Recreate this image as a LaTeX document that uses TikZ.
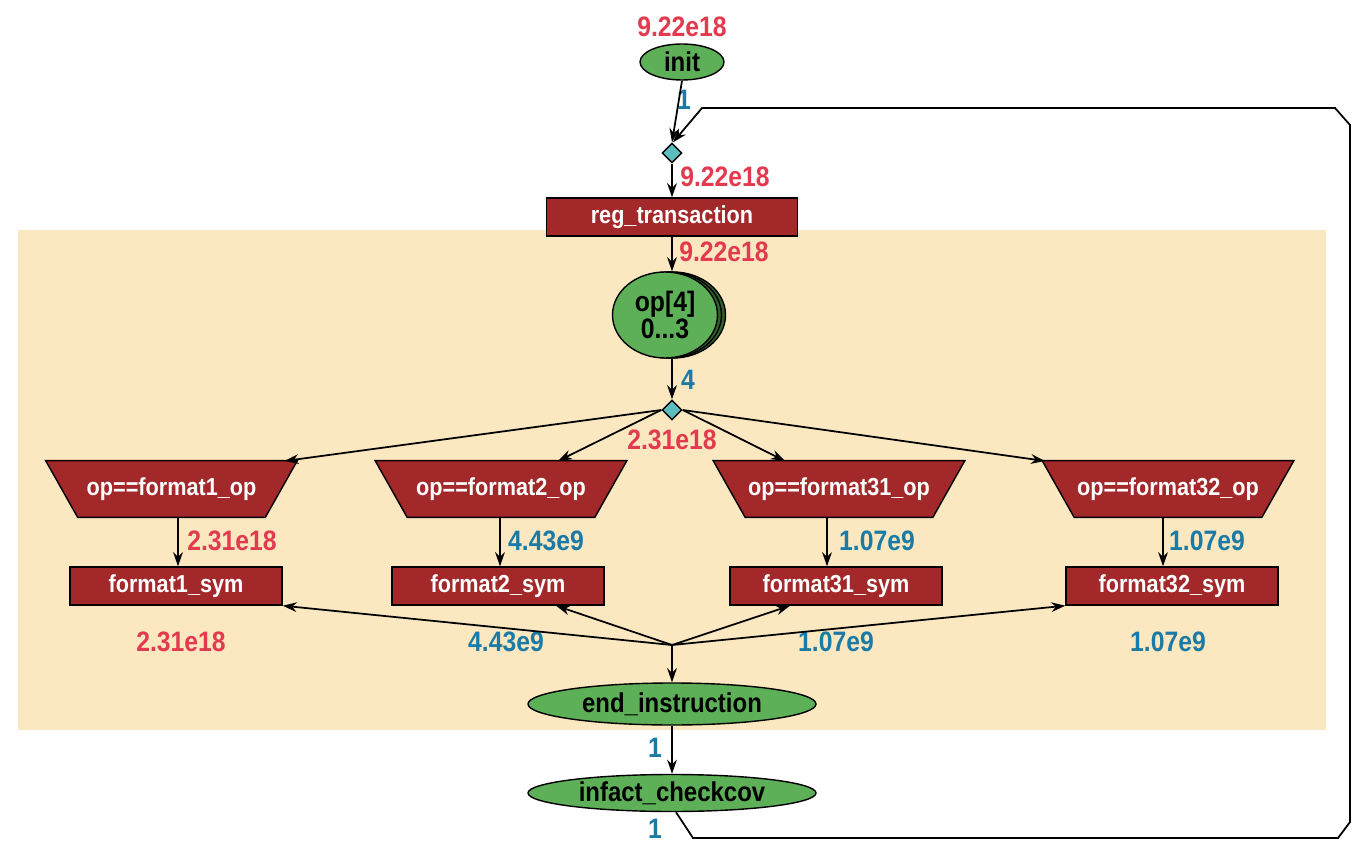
\documentclass[tikz,border=0pt]{standalone}
\usepackage{fontspec}
\setmainfont{Liberation Sans}[FakeStretch=0.88]
\usetikzlibrary{shapes.geometric,arrows.meta,calc,shadows}
\newdimen\px \px=0.02cm
\definecolor{bgbeige}{HTML}{FBE8C0}
\definecolor{boxred}{HTML}{A3282A}
\definecolor{ellgreen}{HTML}{5DAF58}
\definecolor{dteal}{HTML}{5BBDBD}
\definecolor{labred}{HTML}{E23A4E}
\definecolor{labblue}{HTML}{1B7BA6}
\pgfdeclarelayer{back}\pgfdeclarelayer{mid}\pgfsetlayers{back,mid,main}
\tikzset{
  rbox/.style={rectangle, draw=black, line width=0.8pt, fill=boxred, text=white,
    font=\fontsize{14}{16}\selectfont\bfseries, inner sep=0pt},
  ell/.style={ellipse, draw=black, line width=0.8pt, fill=ellgreen, text=black,
    font=\fontsize{15.5}{17}\selectfont\bfseries, inner sep=0pt},
  trapbox/.style={rectangle, text=white, font=\fontsize{14}{16}\selectfont\bfseries,
    minimum width=251\px, minimum height=56\px, inner sep=0pt},
  dia/.style={diamond, draw=black, line width=0.8pt, fill=dteal, minimum width=20\px,
    minimum height=20\px, inner sep=0pt, aspect=1},
  rl/.style={text=labred, font=\fontsize{16}{18}\selectfont\bfseries, inner sep=0pt},
  bl/.style={text=labblue, font=\fontsize{16}{18}\selectfont\bfseries, inner sep=0pt},
  arr/.style={-{Stealth[length=8pt,width=5.5pt]}, line width=1pt, draw=black},
}
\begin{document}
\begin{tikzpicture}[x=0.02cm,y=-0.02cm]
\useasboundingbox (0,0) rectangle (1371,864);
\begin{pgfonlayer}{back}
\fill[white] (0,0) rectangle (1371,864);
\fill[bgbeige] (18,230) rectangle (1326,730);
\end{pgfonlayer}

% nodes
\node[ell, minimum width=84\px, minimum height=36\px] (init) at (682,62) {init};
\node[dia] (d1) at (672,153) {};
\node[rbox, minimum width=251\px, minimum height=38\px] (reg) at (672,217) {reg\_transaction};
\node[ell, minimum width=105\px, minimum height=86\px, align=center,
  font=\fontsize{16}{15}\selectfont\bfseries,
  double copy shadow={shadow xshift=4\px, shadow yshift=0pt, fill=ellgreen!55!black, draw=black}]
  (op) at (665,315) {op[4]\\0...3};
\node[dia] (d2) at (672,410) {};

\node[trapbox] (t1) at (171.5,489) {op==format1\_op};
\node[trapbox] (t2) at (501,489) {op==format2\_op};
\node[trapbox] (t3) at (839,489) {op==format31\_op};
\node[trapbox] (t4) at (1168,489) {op==format32\_op};
\begin{pgfonlayer}{mid}
\foreach \t in {t1,t2,t3,t4}{
  \filldraw[fill=boxred, draw=black, line width=0.8pt] (\t.north west) -- (\t.north east)
    -- ($(\t.south east)+(-32,0)$) -- ($(\t.south west)+(32,0)$) -- cycle;
}
\end{pgfonlayer}

\node[rbox, minimum width=212\px, minimum height=38\px] (s1) at (176,586) {format1\_sym};
\node[rbox, minimum width=212\px, minimum height=38\px] (s2) at (498,586) {format2\_sym};
\node[rbox, minimum width=212\px, minimum height=38\px] (s3) at (836,586) {format31\_sym};
\node[rbox, minimum width=212\px, minimum height=38\px] (s4) at (1172,586) {format32\_sym};

\coordinate (j) at (672,645);
\node[ell, minimum width=288\px, minimum height=42\px] (endi) at (672,704) {end\_instruction};
\node[ell, minimum width=288\px, minimum height=37\px] (ick) at (672,793) {infact\_checkcov};

% labels
\node[rl] (l1) at (682,27) {9.22e18};
\node[bl] (l2) at (684,100) {1};
\node[rl] (l3) at (725,177) {9.22e18};
\node[rl] (l4) at (724,252) {9.22e18};
\node[bl] (l5) at (688,380) {4};
\node[rl] (l6) at (672,440) {2.31e18};
\node[rl] (l7) at (232,541) {2.31e18};
\node[bl] (l8) at (546,541) {4.43e9};
\node[bl] (l9) at (877,541) {1.07e9};
\node[bl] (l10) at (1207,541) {1.07e9};
\node[rl] (l11) at (181,642) {2.31e18};
\node[bl] (l12) at (506,642) {4.43e9};
\node[bl] (l13) at (836,642) {1.07e9};
\node[bl] (l14) at (1168,642) {1.07e9};
\node[bl] (l15) at (655,748) {1};
\node[bl] (l16) at (655,829) {1};

% loop corners
\coordinate (c1) at (693,838);
\coordinate (c2) at (1338,838);
\coordinate (c3) at (1350,822);
\coordinate (c4) at (1350,125);
\coordinate (c5) at (1335,108);
\coordinate (c6) at (702,108);

% edges
\draw[arr] (init.south) -- (d1.north);
\draw[arr] ($(ick.south)+(4,0)$) -- (c1) -- (c2) -- (c3) -- (c4) -- (c5) -- (c6) -- ($(d1.north)+(1,0)$);
\draw[arr] (d1.south) -- (reg.north);
\draw[arr] (reg.south) -- (reg.south |- op.north);
\draw[arr] (d2.north |- op.south) -- (d2.north);
\draw[arr] (d2.west) -- ($(t1.center)+(113,-28)$);
\draw[arr] (d2.west) -- ($(t2.center)+(57,-28)$);
\draw[arr] (d2.east) -- ($(t3.center)+(-54,-28)$);
\draw[arr] (d2.east) -- ($(t4.center)+(-123,-28)$);
\draw[arr] ($(t1.south)+(6.5,0)$) -- ($(s1.north)+(2,0)$);
\draw[arr] ($(t2.south)+(-1,0)$) -- ($(s2.north)+(2,0)$);
\draw[arr] ($(t3.south)+(-12,0)$) -- ($(s3.north)+(-9,0)$);
\draw[arr] ($(t4.south)+(-5,0)$) -- ($(s4.north)+(-9,0)$);
\draw[arr] (j) -- (s1.south east);
\draw[arr] (j) -- ($(s2.south)+(58,0)$);
\draw[arr] (j) -- ($(s3.south)+(-46,0)$);
\draw[arr] (j) -- (s4.south west);
\draw[arr] (j) -- (endi.north);
\draw[arr] (endi.south) -- (ick.north);
\end{tikzpicture}
\end{document}
